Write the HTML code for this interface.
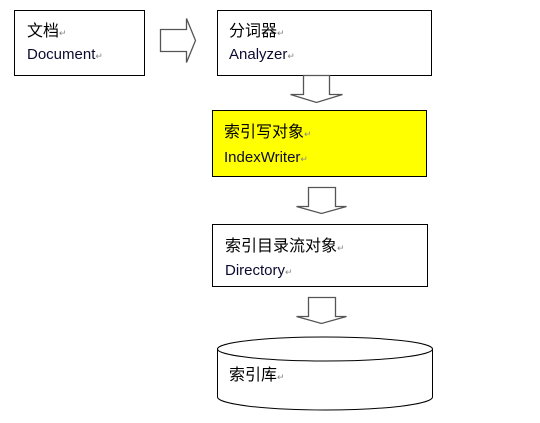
<!DOCTYPE html>
<html><head><meta charset="utf-8"><style>
body{margin:0;background:#fff;width:540px;height:418px;overflow:hidden}
text{font-family:"Liberation Sans","Noto Sans CJK SC",sans-serif}
.c{font-size:16px;fill:#000}
.e{font-size:15px;fill:#0a0a30}
.r{font-size:9px;fill:#888}
</style></head><body>
<svg width="540" height="418" viewBox="0 0 540 418" xmlns="http://www.w3.org/2000/svg">
<g stroke="#000" stroke-width="1" fill="#fff">
<rect x="14.5" y="10.5" width="130" height="65"/>
<rect x="217.5" y="10.5" width="214" height="65"/>
<rect x="212.5" y="110.5" width="214" height="66" fill="#ffff00"/>
<rect x="212.5" y="224.5" width="215" height="62"/>
</g>
<g stroke="#555" stroke-width="1.3" fill="#fff">
<polygon points="160.5,29.5 186.5,29.5 186.5,18.5 195.5,40.5 186.5,62.5 186.5,51.5 160.5,51.5"/>
<polygon points="303.5,75.5 329.5,75.5 329.5,94.5 342.5,94.5 316.5,102.5 290.5,94.5 303.5,94.5"/>
<polygon points="308.5,187.5 335.5,187.5 335.5,206.5 346.5,206.5 321.5,213.5 296.5,206.5 308.5,206.5"/>
<polygon points="308.5,297.5 335.5,297.5 335.5,316.5 346.5,316.5 321.5,323.5 296.5,316.5 308.5,316.5"/>
</g>
<g stroke="#000" stroke-width="1" fill="#fff">
<path d="M217.5,349 L217.5,397 A107.5,13 0 0 0 432.5,397 L432.5,349"/>
<ellipse cx="325" cy="349" rx="107.5" ry="12"/>
</g>
<text class="c" x="27" y="36">文档<tspan class="r">↵</tspan></text>
<text class="e" x="27" y="59">Document<tspan class="r">↵</tspan></text>
<text class="c" x="229" y="36">分词器<tspan class="r">↵</tspan></text>
<text class="e" x="229" y="59">Analyzer<tspan class="r">↵</tspan></text>
<text class="c" x="224" y="137">索引写对象<tspan class="r">↵</tspan></text>
<text class="e" x="224" y="162">IndexWriter<tspan class="r">↵</tspan></text>
<text class="c" x="225" y="251">索引目录流对象<tspan class="r">↵</tspan></text>
<text class="e" x="225" y="275">Directory<tspan class="r">↵</tspan></text>
<text class="c" x="229" y="380">索引库<tspan class="r">↵</tspan></text>
</svg>
</body></html>
